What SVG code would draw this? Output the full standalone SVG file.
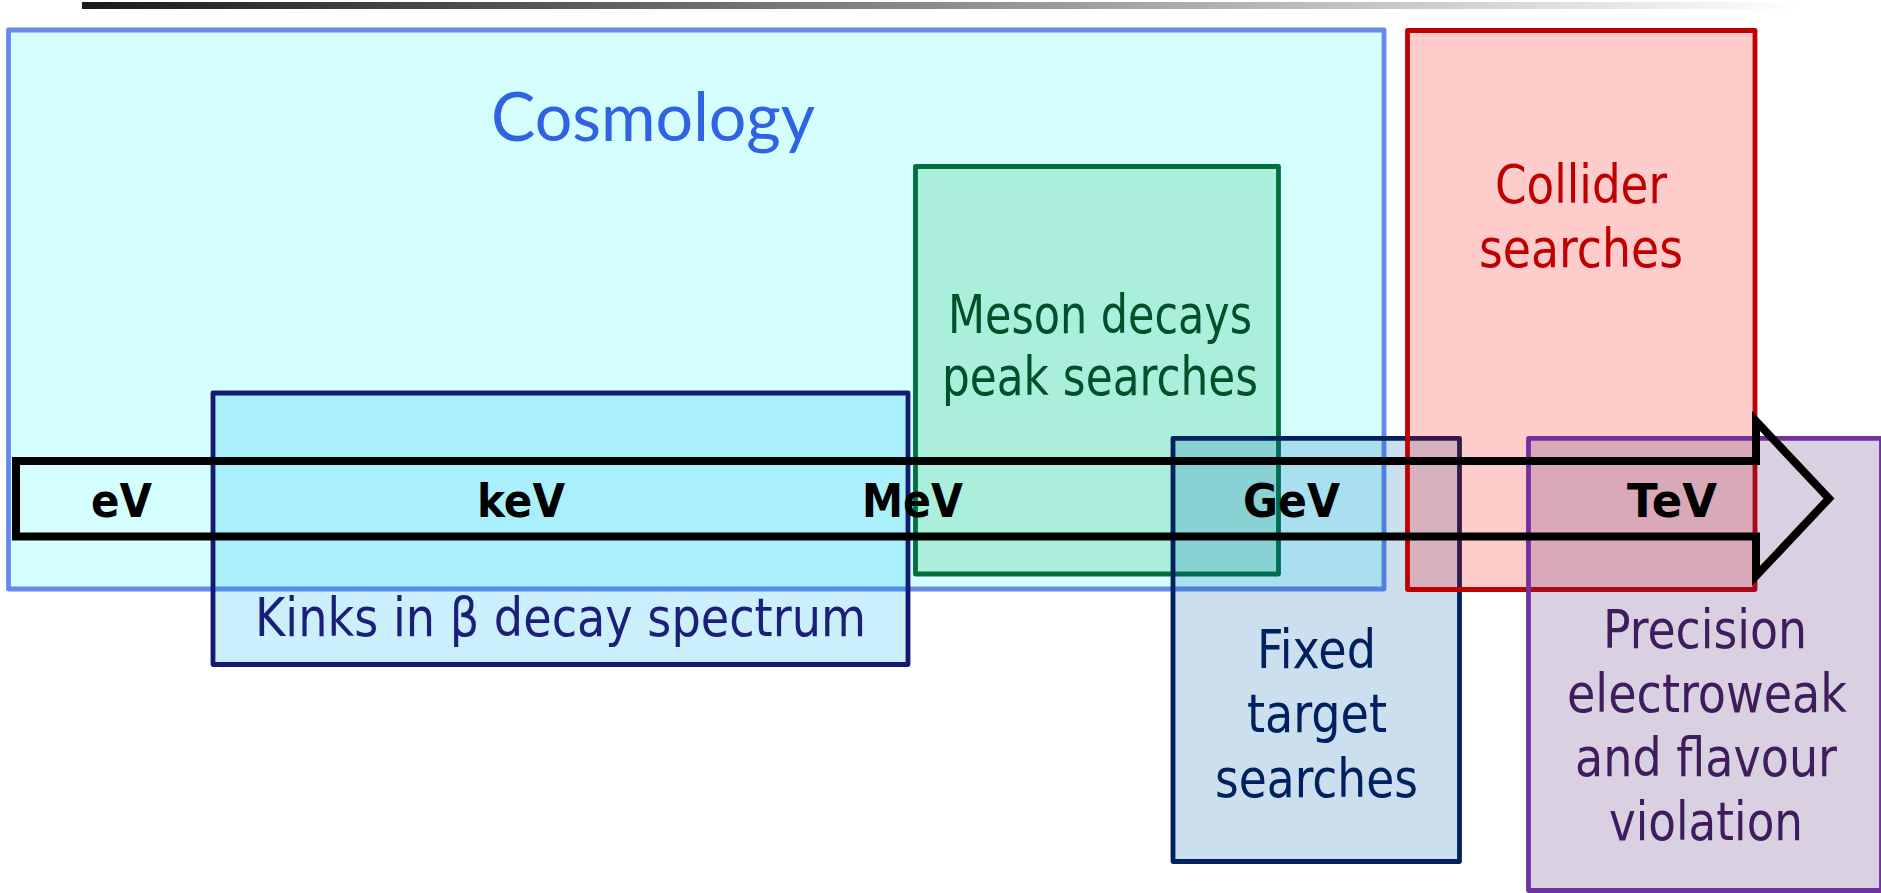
<svg xmlns="http://www.w3.org/2000/svg" width="1881" height="893" viewBox="0 0 1881 893">
  <defs>
    <linearGradient id="topbar" x1="0" y1="0" x2="1" y2="0">
      <stop offset="0" stop-color="#1a1a1a"/>
      <stop offset="1" stop-color="#ffffff"/>
    </linearGradient>
  </defs>
  <style>
    .box { stroke-width: 4.8; stroke-linejoin: round; }
    .lbl { font-family: "DejaVu Sans Condensed", "DejaVu Sans", Verdana, sans-serif; font-size: 53px; }
    .energy { font-family: "DejaVu Sans", Verdana, sans-serif; font-weight: bold; font-size: 47px; fill: #000000; }
  </style>

  <rect width="1881" height="893" fill="#ffffff"/>

  <!-- header rule fading to the right -->
  <rect x="82" y="2" width="1720" height="7" fill="url(#topbar)"/>

  <g id="cosmology">
    <rect class="box" x="8.5" y="30" width="1375.5" height="559" fill="#d5ffff" stroke="#6688e8"/>
    <text x="491" y="141" textLength="324" lengthAdjust="spacingAndGlyphs" font-family="Lato, 'Open Sans', sans-serif" font-size="68" fill="#2f63e3">Cosmology</text>
  </g>

  <g id="beta-kinks">
    <rect class="box" x="213" y="393" width="695" height="271.5" fill="rgba(0,176,240,0.2)" stroke="#141a73"/>
    <text class="lbl" x="255" y="636" textLength="611" lengthAdjust="spacingAndGlyphs" fill="#1b1f7a">Kinks in β decay spectrum</text>
  </g>

  <g id="meson-decays">
    <rect class="box" x="915.5" y="166.5" width="363" height="407.5" fill="rgba(0,176,80,0.2)" stroke="#00703c"/>
    <text class="lbl" fill="#00502a">
      <tspan x="948" y="333" textLength="304" lengthAdjust="spacingAndGlyphs">Meson decays</tspan>
      <tspan x="942" y="395" textLength="316" lengthAdjust="spacingAndGlyphs">peak searches</tspan>
    </text>
  </g>

  <g id="fixed-target">
    <rect class="box" x="1173" y="438.3" width="286.5" height="423.2" fill="rgba(0,96,176,0.2)" stroke="#002060"/>
    <text class="lbl" fill="#002060">
      <tspan x="1257" y="668" textLength="119" lengthAdjust="spacingAndGlyphs">Fixed</tspan>
      <tspan x="1247" y="732" textLength="140" lengthAdjust="spacingAndGlyphs">target</tspan>
      <tspan x="1215" y="797" textLength="203" lengthAdjust="spacingAndGlyphs">searches</tspan>
    </text>
  </g>

  <g id="collider">
    <rect class="box" x="1407.5" y="30.5" width="347.5" height="559" fill="rgba(255,0,0,0.2)" stroke="#c00000"/>
    <text class="lbl" fill="#c00000">
      <tspan x="1495" y="203" textLength="172" lengthAdjust="spacingAndGlyphs">Collider</tspan>
      <tspan x="1479" y="267" textLength="204" lengthAdjust="spacingAndGlyphs">searches</tspan>
    </text>
  </g>

  <g id="precision">
    <rect class="box" x="1528.5" y="438.3" width="353" height="452.2" fill="rgba(80,40,120,0.22)" stroke="#7030a0"/>
    <text class="lbl" fill="#3f1d5c">
      <tspan x="1603" y="648" textLength="204" lengthAdjust="spacingAndGlyphs">Precision</tspan>
      <tspan x="1567" y="712" textLength="280" lengthAdjust="spacingAndGlyphs">electroweak</tspan>
      <tspan x="1575" y="776" textLength="262" lengthAdjust="spacingAndGlyphs">and flavour</tspan>
      <tspan x="1609" y="840" textLength="194" lengthAdjust="spacingAndGlyphs">violation</tspan>
    </text>
  </g>

  <!-- energy scale arrow -->
  <g id="connectors">
    <path d="M16,461 H1756 V421 L1829,498.5 L1756,576 V536.5 H16 Z" fill="none" stroke="#000000" stroke-width="8" stroke-linejoin="miter"/>
    <text class="energy" x="91" y="517" textLength="61" lengthAdjust="spacingAndGlyphs">eV</text>
    <text class="energy" x="477" y="517" textLength="88" lengthAdjust="spacingAndGlyphs">keV</text>
    <text class="energy" x="862" y="517" textLength="101" lengthAdjust="spacingAndGlyphs">MeV</text>
    <text class="energy" x="1243" y="517" textLength="97" lengthAdjust="spacingAndGlyphs">GeV</text>
    <text class="energy" x="1627" y="517" textLength="90" lengthAdjust="spacingAndGlyphs">TeV</text>
  </g>
</svg>
